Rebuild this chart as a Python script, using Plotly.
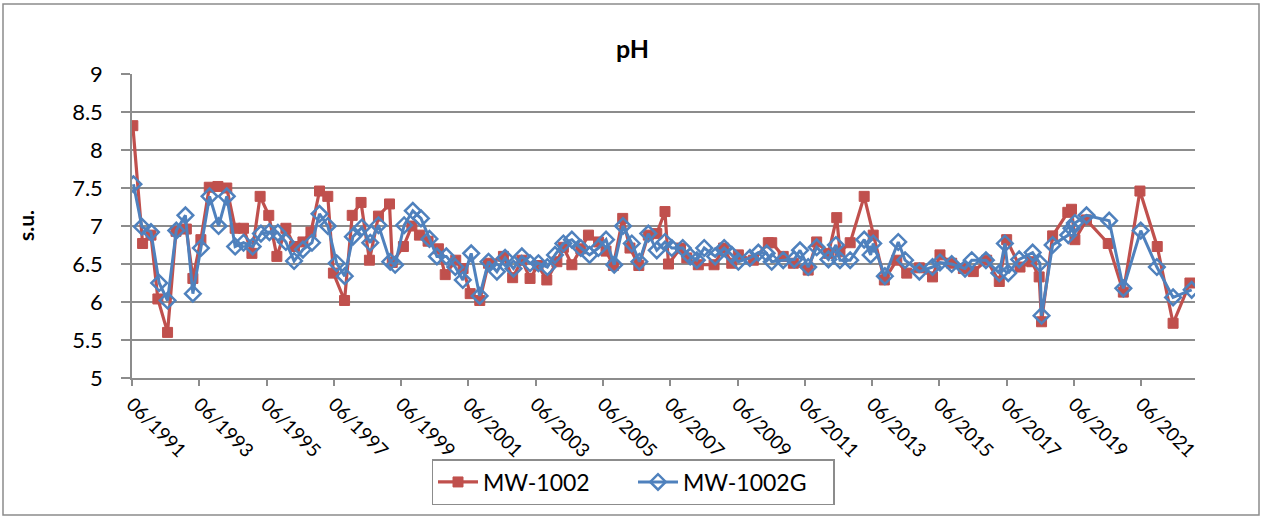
import plotly.graph_objects as go

# ---- data ----
mw1002_dates = [
    "1991-06-10", "1991-09-24", "1991-12-24", "1992-03-08", "1992-06-21", "1992-09-21",
    "1993-01-11", "1993-03-23", "1993-06-18", "1993-09-17", "1993-12-20", "1994-03-26",
    "1994-06-25", "1994-09-24", "1994-12-24", "1995-03-23", "1995-06-25", "1995-09-21",
    "1995-12-28", "1996-03-30", "1996-06-30", "1996-09-25", "1996-12-27", "1997-03-27",
    "1997-05-27", "1997-09-25", "1997-12-17", "1998-03-23", "1998-06-22", "1998-09-28",
    "1999-01-26", "1999-02-25", "1999-06-26", "1999-09-26", "1999-12-17", "2000-03-20",
    "2000-07-10", "2000-09-22", "2001-01-14", "2001-04-04", "2001-06-20", "2001-10-02",
    "2002-01-05", "2002-06-16", "2002-09-24", "2003-01-02", "2003-04-01", "2003-06-27",
    "2003-09-30", "2004-01-17", "2004-03-28", "2004-06-28", "2004-10-03", "2004-12-25",
    "2005-04-14", "2005-07-04", "2005-09-22", "2006-01-01", "2006-03-21", "2006-06-25",
    "2006-10-06", "2007-01-06", "2007-04-05", "2007-05-13", "2007-09-21", "2007-11-28",
    "2008-04-01", "2008-09-19", "2009-01-01", "2009-03-30", "2009-06-10", "2009-11-20",
    "2010-05-01", "2010-06-07", "2010-10-10", "2011-01-28", "2011-07-08", "2011-10-08",
    "2012-02-13", "2012-05-13", "2012-06-17", "2012-10-06", "2013-03-07", "2013-06-13",
    "2013-10-12", "2014-02-24", "2014-06-12", "2014-10-27", "2015-03-19", "2015-06-08",
    "2015-10-13", "2016-02-17", "2016-06-04", "2016-10-27", "2017-03-13", "2017-06-01",
    "2017-10-24", "2018-02-28", "2018-05-20", "2018-06-15", "2018-10-13", "2019-03-27",
    "2019-05-06", "2019-06-12", "2019-10-16", "2020-06-08", "2020-11-19", "2021-05-18",
    "2021-11-22", "2022-05-13", "2022-11-12",
]
mw1002_ph = [
    8.32, 6.77, 6.88, 6.04, 5.60, 6.93,
    6.96, 6.31, 6.82, 7.51, 7.52, 7.50,
    6.97, 6.97, 6.64, 7.39, 7.14, 6.60,
    6.97, 6.73, 6.79, 6.92, 7.46, 7.39,
    6.38, 6.02, 7.14, 7.31, 6.55, 7.13,
    7.29, 6.52, 6.73, 7.00, 6.88, 6.80,
    6.70, 6.36, 6.55, 6.44, 6.11, 6.02,
    6.51, 6.60, 6.32, 6.55, 6.31, 6.48,
    6.29, 6.53, 6.72, 6.49, 6.70, 6.88,
    6.79, 6.67, 6.48, 7.10, 6.71, 6.48,
    6.88, 6.90, 7.19, 6.50, 6.71, 6.58,
    6.49, 6.49, 6.71, 6.51, 6.62, 6.55,
    6.78, 6.78, 6.60, 6.51, 6.42, 6.79,
    6.64, 7.11, 6.66, 6.78, 7.39, 6.88,
    6.29, 6.55, 6.38, 6.45, 6.33, 6.62,
    6.51, 6.44, 6.40, 6.55, 6.27, 6.82,
    6.46, 6.53, 6.33, 5.74, 6.87, 7.18,
    7.22, 6.82, 7.08, 6.77, 6.13, 7.46,
    6.73, 5.72, 6.25,
]

mw1002g_dates = [
    "1991-06-17", "1991-09-17", "1991-12-24", "1992-03-22", "1992-06-21", "1992-09-24",
    "1993-01-01", "1993-03-23", "1993-06-18", "1993-09-20", "1993-12-27", "1994-03-26",
    "1994-06-25", "1994-09-24", "1995-01-01", "1995-04-01", "1995-07-02", "1995-10-02",
    "1995-12-28", "1996-03-26", "1996-06-30", "1996-10-06", "1996-12-27", "1997-03-27",
    "1997-07-01", "1997-09-27", "1997-12-25", "1998-04-01", "1998-07-01", "1998-09-28",
    "1999-02-03", "1999-03-28", "1999-07-04", "1999-10-06", "2000-01-03", "2000-04-04",
    "2000-06-24", "2000-10-04", "2001-01-09", "2001-04-01", "2001-07-01", "2001-10-01",
    "2002-01-05", "2002-04-06", "2002-07-04", "2002-10-03", "2003-01-02", "2003-04-01",
    "2003-07-01", "2003-10-06", "2003-12-28", "2004-03-28", "2004-06-28", "2004-10-03",
    "2005-01-06", "2005-04-12", "2005-07-04", "2005-10-01", "2006-01-04", "2006-04-10",
    "2006-07-01", "2006-10-06", "2007-01-06", "2007-04-05", "2007-06-18", "2007-10-15",
    "2008-01-04", "2008-03-16", "2008-06-04", "2008-10-01", "2009-01-07", "2009-03-30",
    "2009-06-10", "2009-10-13", "2010-01-13", "2010-04-13", "2010-06-07", "2010-10-10",
    "2011-02-06", "2011-04-10", "2011-07-08", "2011-10-08", "2012-02-13", "2012-05-04",
    "2012-06-17", "2012-10-06", "2013-03-07", "2013-05-16", "2013-06-13", "2013-10-18",
    "2014-03-12", "2014-05-25", "2014-10-27", "2015-03-19", "2015-06-08", "2015-10-13",
    "2016-03-06", "2016-05-18", "2016-10-19", "2017-03-13", "2017-05-13", "2017-06-18",
    "2017-10-15", "2018-03-10", "2018-05-28", "2018-06-15", "2018-10-13", "2019-04-01",
    "2019-05-06", "2019-06-12", "2019-10-16", "2020-06-18", "2020-11-19", "2021-05-27",
    "2021-11-18", "2022-05-13", "2022-12-01",
]
mw1002g_ph = [
    7.55, 6.99, 6.92, 6.25, 6.02, 6.94,
    7.14, 6.11, 6.71, 7.39, 7.00, 7.39,
    6.73, 6.78, 6.73, 6.90, 6.92, 6.91,
    6.79, 6.54, 6.69, 6.78, 7.16, 7.00,
    6.51, 6.34, 6.86, 6.98, 6.78, 7.01,
    6.53, 6.49, 7.01, 7.20, 7.10, 6.83,
    6.60, 6.60, 6.46, 6.29, 6.64, 6.08,
    6.53, 6.40, 6.58, 6.44, 6.60, 6.51,
    6.51, 6.46, 6.62, 6.77, 6.82, 6.71,
    6.62, 6.71, 6.82, 6.49, 7.00, 6.77,
    6.53, 6.90, 6.68, 6.79, 6.71, 6.71,
    6.60, 6.55, 6.71, 6.60, 6.71, 6.62,
    6.53, 6.58, 6.65, 6.64, 6.53, 6.55,
    6.56, 6.68, 6.46, 6.72, 6.56, 6.75,
    6.55, 6.55, 6.82, 6.62, 6.77, 6.34,
    6.79, 6.55, 6.40, 6.46, 6.52, 6.50,
    6.44, 6.55, 6.55, 6.38, 6.77, 6.38,
    6.56, 6.65, 6.51, 5.82, 6.75, 6.88,
    6.97, 7.04, 7.14, 7.07, 6.18, 6.94,
    6.46, 6.06, 6.16,
]

tick_dates = ["1991-06-01", "1993-06-01", "1995-06-01", "1997-06-01", "1999-06-01",
              "2001-06-01", "2003-06-01", "2005-06-01", "2007-06-01", "2009-06-01",
              "2011-06-01", "2013-06-01", "2015-06-01", "2017-06-01", "2019-06-01",
              "2021-06-01"]
tick_labels = ["06/1991", "06/1993", "06/1995", "06/1997", "06/1999", "06/2001",
               "06/2003", "06/2005", "06/2007", "06/2009", "06/2011", "06/2013",
               "06/2015", "06/2017", "06/2019", "06/2021"]

RED = "#C0504D"
BLUE = "#4F81BD"
GRID = "#8C8C8C"
FONT = "Lato"

fig = go.Figure()
fig.add_trace(go.Scatter(
    x=mw1002_dates, y=mw1002_ph, name="MW-1002", mode="lines+markers",
    line=dict(color=RED, width=3.2),
    marker=dict(symbol="square", size=10, color=RED, line=dict(color=RED, width=1)),
))
fig.add_trace(go.Scatter(
    x=mw1002g_dates, y=mw1002g_ph, name="MW-1002G", mode="lines+markers",
    line=dict(color=BLUE, width=3),
    marker=dict(symbol="diamond-open", size=12, color=BLUE, line=dict(color=BLUE, width=2.5)),
))

L, R, T, B = 132, 67, 74, 140
W, H = 1262, 518
pw, ph = W - L - R, H - T - B

fig.update_layout(
    width=W, height=H,
    margin=dict(l=L, r=R, t=T, b=B),
    paper_bgcolor="white", plot_bgcolor="white",
    font=dict(family=FONT, size=20, color="black"),
    showlegend=True,
    legend=dict(
        orientation="h", x=(633 - L) / pw, xanchor="center", y=-(459 - (T + ph)) / ph,
        yanchor="top", bordercolor=GRID, borderwidth=1.5, bgcolor="white",
        font=dict(family=FONT, size=23), itemwidth=40, tracegroupgap=0,
        entrywidth=145, entrywidthmode="pixels",
    ),
    annotations=[
        dict(text="<b>pH</b>", x=(632 - L) / pw, y=(T + ph - 48) / ph, xref="paper", yref="paper",
             showarrow=False, font=dict(family=FONT, size=25), xanchor="center", yanchor="middle"),
        dict(text="<b>s.u.</b>", x=(25 - L) / pw, y=0.5, xref="paper", yref="paper",
             showarrow=False, textangle=-90, font=dict(family=FONT, size=21),
             xanchor="center", yanchor="middle"),
    ],
    shapes=[
        dict(type="rect", xref="paper", yref="paper",
             x0=(3 - L) / pw, x1=(1259 - L) / pw,
             y0=(T + ph - 515) / ph, y1=(T + ph - 4) / ph,
             line=dict(color=GRID, width=1.5), fillcolor="rgba(0,0,0,0)", layer="below"),
    ],
)

fig.update_xaxes(
    type="date", range=["1991-06-01", "2023-01-06"],
    tickmode="array", tickvals=tick_dates, ticktext=tick_labels,
    tickangle=45, ticks="outside", ticklen=6, tickcolor=GRID, tickwidth=1.5,
    showline=True, linecolor=GRID, linewidth=1.5, showgrid=False, zeroline=False,
    tickfont=dict(family=FONT, size=19),
)
fig.update_yaxes(
    range=[5, 9], dtick=0.5, tick0=5,
    ticks="outside", ticklen=9, tickcolor=GRID, tickwidth=1.5,
    showline=True, linecolor=GRID, linewidth=1.5,
    showgrid=True, gridcolor=GRID, gridwidth=1.5, zeroline=False,
    tickfont=dict(family=FONT, size=22), ticklabelstandoff=14,
)

fig.write_html("out.html")
